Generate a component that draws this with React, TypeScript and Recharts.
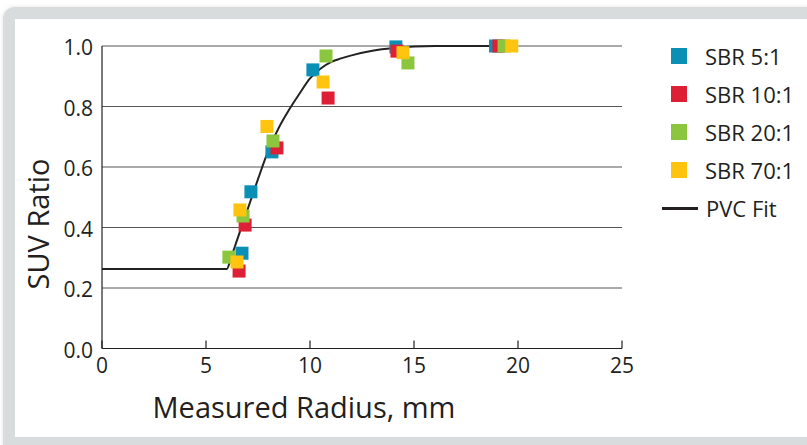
import React from "react";
import { ComposedChart, Scatter, Line, XAxis, YAxis, CartesianGrid, Label } from "recharts";

const xTicks = [0, 5, 10, 15, 20, 25];
const yTicks = [0, 0.2, 0.4, 0.6, 0.8, 1.0];

const sbr5 = [
  { x: 6.73, y: 0.315 },
  { x: 7.16, y: 0.518 },
  { x: 8.17, y: 0.65 },
  { x: 10.14, y: 0.921 },
  { x: 14.13, y: 0.997 },
  { x: 18.92, y: 1.0 },
];

const sbr10 = [
  { x: 6.59, y: 0.256 },
  { x: 6.88, y: 0.408 },
  { x: 8.41, y: 0.663 },
  { x: 10.87, y: 0.828 },
  { x: 14.18, y: 0.983 },
  { x: 19.08, y: 1.0 },
];

const sbr20 = [
  { x: 6.1, y: 0.302 },
  { x: 6.78, y: 0.438 },
  { x: 8.22, y: 0.686 },
  { x: 10.77, y: 0.967 },
  { x: 14.71, y: 0.944 },
  { x: 19.33, y: 1.0 },
];

const sbr70 = [
  { x: 6.49, y: 0.286 },
  { x: 6.63, y: 0.458 },
  { x: 7.93, y: 0.734 },
  { x: 10.63, y: 0.881 },
  { x: 14.47, y: 0.978 },
  { x: 19.7, y: 1.0 },
];

// fit curve
const pvcFit = [
  { x: 0, y: 0.263 },
  { x: 6.0, y: 0.263 },
  { x: 6.2, y: 0.3 },
  { x: 6.5, y: 0.36 },
  { x: 7, y: 0.46 },
  { x: 7.5, y: 0.56 },
  { x: 8, y: 0.655 },
  { x: 8.5, y: 0.73 },
  { x: 9, y: 0.79 },
  { x: 9.5, y: 0.843 },
  { x: 10, y: 0.893 },
  { x: 10.5, y: 0.925 },
  { x: 11, y: 0.947 },
  { x: 11.5, y: 0.959 },
  { x: 12, y: 0.969 },
  { x: 13, y: 0.984 },
  { x: 14, y: 0.993 },
  { x: 15, y: 0.998 },
  { x: 16, y: 1.0 },
  { x: 17, y: 1.0 },
  { x: 18, y: 1.0 },
  { x: 19, y: 1.0 },
];

const series = [
  { name: "SBR 5:1", color: "#0a8fb5", data: sbr5 },
  { name: "SBR 10:1", color: "#dd2035", data: sbr10 },
  { name: "SBR 20:1", color: "#8cc63e", data: sbr20 },
  { name: "SBR 70:1", color: "#fec410", data: sbr70 },
];

const FONT = "'Open Sans', sans-serif";
const INK = "#231f20";
const FRAME = "#d8dcdc";

const Square = (props: any) => {
  const { cx, cy, color } = props;
  if (cx == null || cy == null) return null;
  return <rect x={cx - 6.5} y={cy - 6.5} width={13} height={13} fill={color} />;
};

const XTick = (props: any) => {
  const { x, y, payload } = props;
  return (
    <g>
      <line x1={x} x2={x} y1={y} y2={y - 8} stroke={INK} strokeWidth={1.2} />
      <text x={x} y={y + 24} textAnchor="middle" fontSize={21} fill={INK} fontFamily={FONT}>
        {payload.value}
      </text>
    </g>
  );
};

const XTitle = () => (
  <text x={304} y={407.5} dy="0.355em" textAnchor="middle" fontSize={29} fill={INK} fontFamily={FONT}>
    Measured Radius, mm
  </text>
);

const YTitle = () => (
  <text
    x={38.5}
    y={224}
    dy="0.355em"
    transform="rotate(-90, 38.5, 224)"
    textAnchor="middle"
    fontSize={29}
    fill={INK}
    fontFamily={FONT}
  >
    SUV Ratio
  </text>
);

const ChartLegend = () => (
  <div style={{ position: "absolute", left: 662, top: 37, fontFamily: FONT, fontSize: 22, color: INK }}>
    {series.map((s) => (
      <div key={s.name} style={{ display: "flex", alignItems: "center", height: 38 }}>
        <div style={{ width: 36, height: 16, position: "relative" }}>
          <div style={{ position: "absolute", left: 9, top: 0, width: 16, height: 16, background: s.color }} />
        </div>
        <span style={{ marginLeft: 7, whiteSpace: "nowrap" }}>{s.name}</span>
      </div>
    ))}
    <div style={{ display: "flex", alignItems: "center", height: 38 }}>
      <div style={{ width: 36, height: 3, background: INK }} />
      <span style={{ marginLeft: 8, whiteSpace: "nowrap" }}>PVC Fit</span>
    </div>
  </div>
);

export default function App() {
  return (
    <div style={{ position: "absolute", left: 0, top: 0, width: 807, height: 445, background: "#fff", overflow: "hidden" }}>
      <div
        style={{
          position: "absolute",
          left: 3,
          top: 7,
          width: 900,
          height: 500,
          background: FRAME,
          borderTopLeftRadius: 12,
          boxShadow: "0 0 4px rgba(0,0,0,0.12)",
        }}
      />
      <div style={{ position: "absolute", left: 15, top: 19, width: 900, height: 418, background: "#fff" }} />
      <div style={{ position: "absolute", left: 0, top: 0 }}>
        <ComposedChart width={807} height={445} margin={{ top: 46, right: 185, bottom: 36.5, left: 42 }}>
          <CartesianGrid horizontal vertical={false} stroke="#555" strokeWidth={1} />
          <XAxis
            type="number"
            dataKey="x"
            domain={[0, 25]}
            ticks={xTicks}
            height={60}
            axisLine={{ stroke: INK, strokeWidth: 1.2 }}
            tickLine={false}
            tickSize={0}
            tickMargin={0}
            tick={<XTick />}
            interval={0}
          >
            <Label content={<XTitle />} />
          </XAxis>
          <YAxis
            type="number"
            dataKey="y"
            domain={[0, 1]}
            ticks={yTicks}
            width={60}
            axisLine={{ stroke: INK, strokeWidth: 1.2 }}
            tickLine={false}
            tickSize={0}
            tickMargin={9}
            interval={0}
            tickFormatter={(v: number) => v.toFixed(1)}
            tick={{ fontSize: 21, fill: INK, fontFamily: FONT, dy: 2 }}
          >
            <Label content={<YTitle />} />
          </YAxis>
          <Line
            data={pvcFit}
            dataKey="y"
            type="monotone"
            stroke="#222"
            strokeWidth={2}
            dot={false}
            activeDot={false}
            isAnimationActive={false}
          />
          {series.map((s) => (
            <Scatter
              key={s.name}
              name={s.name}
              data={s.data}
              fill={s.color}
              isAnimationActive={false}
              shape={(p: any) => <Square {...p} color={s.color} />}
            />
          ))}
        </ComposedChart>
      </div>
      <ChartLegend />
    </div>
  );
}
